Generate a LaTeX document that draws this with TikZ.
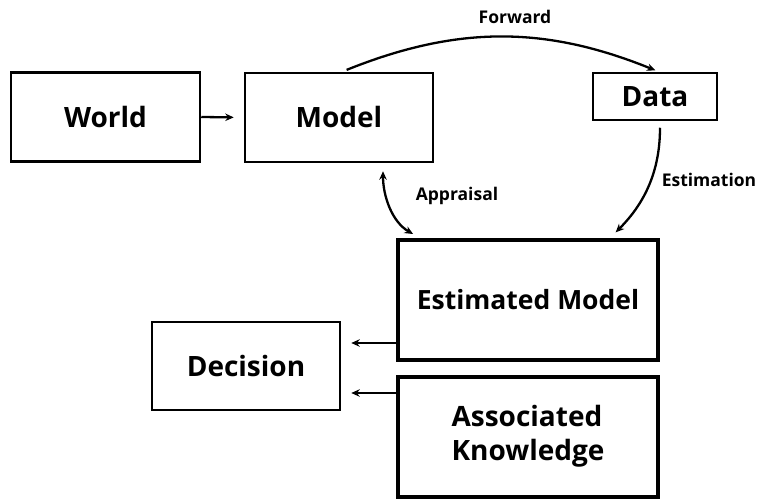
\documentclass[tikz,border=0pt]{standalone}
\usepackage{fontspec}
\setmainfont{Open Sans}
\usetikzlibrary{arrows.meta}
\begin{document}
\begin{tikzpicture}[x=1pt,y=-1pt,
  box/.style={draw=black, line width=2.5pt, rectangle, inner sep=0pt, font=\fontsize{28}{34}\selectfont\bfseries},
  lbl/.style={font=\fontsize{17.5}{21}\selectfont\bfseries, inner sep=0pt},
  arr/.style={line width=2.3pt, -{Stealth[length=8.5pt,width=7.5pt]}}]
\useasboundingbox (0,0) rectangle (758,500);
\node[box, minimum width=189pt, minimum height=89pt] (world) at (105.5,117) {World};
\node[box, minimum width=188pt, minimum height=89pt] (model) at (339,117.5) {Model};
\node[box, line width=1.5pt, minimum width=124pt, minimum height=47pt] (data) at (655,96.5) {Data};
\node[box, line width=4pt, minimum width=260pt, minimum height=120pt, font=\fontsize{26.5}{32}\selectfont\bfseries] (est) at (528,300) {Estimated Model};
\node[box, line width=4pt, minimum width=260pt, minimum height=120pt, align=left, text depth=8pt] (assoc) at (528,437) {Associated\\Knowledge};
\node[box, minimum width=188pt, minimum height=88pt] (dec) at (246,366) {Decision};
\node[lbl] (lfwd) at (515,17) {Forward};
\node[lbl] (lapp) at (457,196) {Appraisal};
\node[lbl] (lestim) at (709,180) {Estimation};
\draw[arr, shorten >=10pt] (world.east) -- (model.west);
\draw[arr, shorten <=5pt, shorten >=5pt] ([xshift=3pt]model.north) to[bend left=22] ([xshift=5pt]data.north);
\draw[arr, shorten <=7pt, shorten >=8pt] ([xshift=5pt]data.south) to[out=-90,in=45] ([xshift=82pt]est.north);
\draw[line width=2.3pt, {Stealth[length=8.5pt,width=7.5pt]}-{Stealth[length=8.5pt,width=7.5pt]}, shorten <=8pt, shorten >=8pt] ([xshift=44pt]model.south) to[out=-90,in=150] ([xshift=-108pt]est.north);
\draw[arr, shorten >=10pt] ([yshift=-43pt]est.west) -- ([yshift=23pt]dec.east);
\draw[arr, shorten >=10pt] ([yshift=44pt]assoc.west) -- ([yshift=-27pt]dec.east);
\end{tikzpicture}
\end{document}
